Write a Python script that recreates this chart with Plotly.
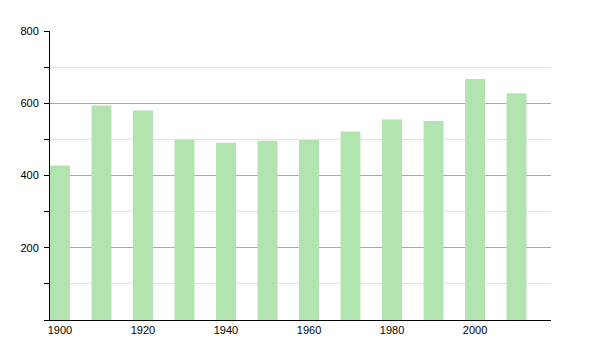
import plotly.graph_objects as go

years = [1900, 1910, 1920, 1930, 1940, 1950, 1960, 1970, 1980, 1990, 2000, 2010]
values = [428, 594, 580, 499, 491, 496, 498, 522, 555, 551, 667, 628]
x_ticks = [1900, 1920, 1940, 1960, 1980, 2000]
y_major = [0, 200, 400, 600, 800]
y_major_labels = ["", "200", "400", "600", "800"]
y_minor = [100, 300, 500, 700]

fig = go.Figure(go.Bar(
    x=years, y=values, width=4.8,
    marker=dict(color="rgb(178,228,176)", line=dict(width=0)),
))

fig.update_layout(
    width=600, height=350,
    margin=dict(l=50, r=49, t=31, b=30),
    paper_bgcolor="white", plot_bgcolor="white",
    showlegend=False,
    font=dict(family="Liberation Sans, Arial, sans-serif", size=11, color="black"),
)
fig.update_xaxes(
    range=[1897.6, 2018.3],
    tickmode="array", tickvals=x_ticks,
    ticks="", showgrid=False, zeroline=False,
    showline=True, linecolor="black", linewidth=1,
    tickfont=dict(color="black"),
)
fig.update_yaxes(
    range=[0, 800],
    tickmode="array", tickvals=y_major, ticktext=y_major_labels,
    ticks="outside", ticklen=5, tickcolor="black",
    ticklabelstandoff=3,
    tickfont=dict(color="black"),
    showgrid=True, gridcolor="#a8a8a8", gridwidth=1,
    zeroline=False,
    showline=True, linecolor="black", linewidth=1,
    minor=dict(tickmode="array", tickvals=y_minor, ticks="outside", ticklen=5,
               tickcolor="black", showgrid=True, gridcolor="#e4e4e4", gridwidth=1),
)

fig.write_html("out.html")
